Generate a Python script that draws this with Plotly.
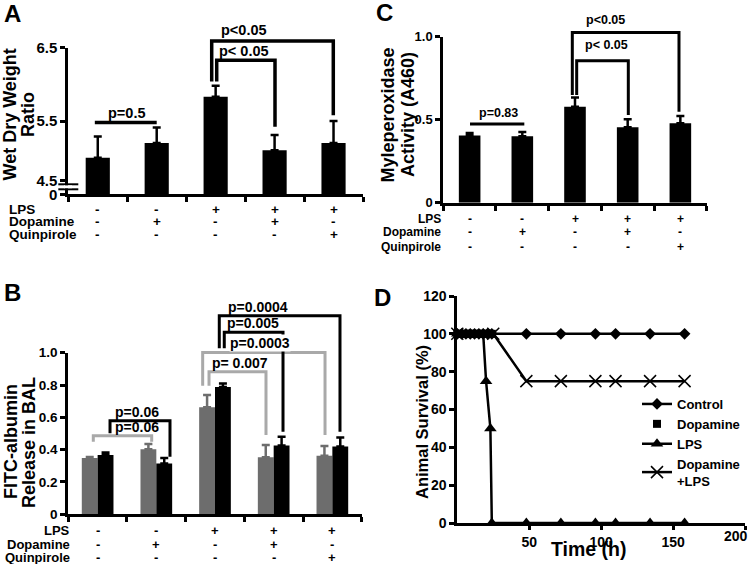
import plotly.graph_objects as go

W, H = 750, 564
FONT = "Liberation Sans, Arial, Helvetica, sans-serif"
BLACK = "#000000"
GRAY_BAR = "#6d6d6d"
GRAY_LINE = "#a9a9a9"

# ---------------- data ----------------
row_names = ["LPS", "Dopamine", "Quinpirole"]
lps_sign = ["-", "-", "+", "+", "+"]
dopamine_sign = ["-", "+", "-", "+", "-"]
quinpirole_sign = ["-", "-", "-", "-", "+"]
group_pos = [0, 1, 2, 3, 4]

# Panel A: wet/dry weight ratio
wet_dry = [5.00, 5.20, 5.83, 5.10, 5.20]
wet_dry_err = [0.29, 0.21, 0.15, 0.21, 0.30]
a_tickvals = [4.5, 4.69, 5.5, 6.5]
a_ticktext = ["0", "4.5", "5.5", "6.5"]

# Panel B: FITC-albumin release (gray / black series)
fitc_gray = [0.348, 0.402, 0.662, 0.353, 0.363]
fitc_gray_err = [0.006, 0.033, 0.076, 0.076, 0.060]
fitc_black = [0.367, 0.315, 0.788, 0.425, 0.419]
fitc_black_err = [0.016, 0.033, 0.022, 0.055, 0.056]
b_tickvals = [0, 0.2, 0.4, 0.6, 0.8, 1.0]
b_ticktext = ["0", "0.2", "0.4", "0.6", "0.8", "1.0"]

# Panel C: myeloperoxidase activity
mpo = [0.405, 0.400, 0.578, 0.455, 0.478]
mpo_err = [0.015, 0.026, 0.056, 0.047, 0.044]
c_tickvals = [0, 0.5, 1.0]
c_ticktext = ["0", "0.5", "1.0"]

# Panel D: survival
t_control = [0, 3, 6, 9, 12, 15, 18, 21, 24, 48, 72, 96, 110, 134, 158]
s_control = [100, 100, 100, 100, 100, 100, 100, 100, 100, 100, 100, 100, 100, 100, 100]
t_dopamine = [0, 2, 4, 6, 8, 10, 12, 14, 16, 18, 20, 22, 24]
s_dopamine = [100, 100, 100, 100, 100, 100, 100, 100, 100, 100, 100, 100, 100]
t_lps = [0, 18, 20, 23, 24, 48, 72, 96, 110, 134, 158]
s_lps = [100, 100, 75, 50, 0, 0, 0, 0, 0, 0, 0]
t_dalps = [0, 25, 48, 72, 96, 110, 134, 158]
s_dalps = [100, 100, 75, 75, 75, 75, 75, 75]
d_xticks = [50, 100, 150, 200]
d_xticktext = ["50", "100", "150", ""]
d_yticks = [0, 20, 40, 60, 80, 100, 120]

# significance brackets: panel, x_left, x_right, y_top, y_left_bottom, y_right_bottom, color, label, text_x, text_y
brackets = [
    ("A", -0.05, 1.0, 5.48, None, None, BLACK, "p=0.5", 0.49, 5.613),
    ("A", 2.018, 3.007, 6.33, 6.04, 5.42, BLACK, "p< 0.05", 2.48, 6.45),
    ("A", 1.933, 3.996, 6.59, 6.04, 5.58, BLACK, "p<0.05", 2.48, 6.74),
    ("C", 0.007, 1.038, 0.474, None, None, BLACK, "p=0.83", 0.557, 0.5386),
    ("C", 2.032, 3.012, 0.855, 0.649, 0.528, BLACK, "p< 0.05", 2.589, 0.95),
    ("C", 1.949, 3.974, 1.026, 0.649, 0.548, BLACK, "p<0.05", 2.57, 1.10),
    ("B", -0.074, 0.921, 0.486, 0.449, 0.449, GRAY_LINE, "p=0.06", 0.666, 0.542),
    ("B", 1.898, 2.869, 0.882, 0.796, 0.490, GRAY_LINE, "p= 0.007", 2.418, 0.934),
    ("B", 1.79, 3.875, 1.002, 0.796, 0.490, GRAY_LINE, "p=0.0003", 2.767, 1.058),
    ("B", 0.211, 1.233, 0.579, 0.501, 0.356, BLACK, "p=0.06", 0.666, 0.635),
    ("B", 2.158, 3.159, 1.126, 1.027, 0.511, BLACK, "p=0.005", 2.648, 1.182),
    ("B", 2.073, 4.13, 1.229, 1.027, 0.511, BLACK, "p=0.0004", 2.729, 1.285),
]

# ---------------- layout geometry ----------------
panels = {
    "A": dict(xpx=(68.3, 363.0), ypx=(47.7, 194.3), yr=(4.5, 6.5), xr=(-0.5, 4.5)),
    "C": dict(xpx=(443.3, 706.7), ypx=(36.7, 202.7), yr=(0, 1), xr=(-0.5, 4.5)),
    "B": dict(xpx=(68.3, 361.7), ypx=(352.7, 514.3), yr=(0, 1), xr=(-0.5, 4.5)),
    "D": dict(xpx=(457.3, 745.0), ypx=(296.0, 523.0), yr=(0, 120), xr=(0, 200)),
}


def fx(p, v):
    a, b = p["xpx"]
    lo, hi = p["xr"]
    return (a + (v - lo) / (hi - lo) * (b - a)) / W


def fy(p, v):
    top, bot = p["ypx"]
    lo, hi = p["yr"]
    return 1 - (bot - (v - lo) / (hi - lo) * (bot - top)) / H


def xdom(p):
    return [p["xpx"][0] / W, p["xpx"][1] / W]


def ydom(p):
    return [1 - p["ypx"][1] / H, 1 - p["ypx"][0] / H]


fig = go.Figure()

# ---------------- bar traces ----------------
fig.add_trace(go.Bar(
    x=group_pos, y=wet_dry, width=0.41, marker=dict(color=BLACK, line=dict(width=0)),
    error_y=dict(type="data", symmetric=False, array=wet_dry_err, arrayminus=[0] * 5,
                 color=BLACK, thickness=2.5, width=4),
    xaxis="x", yaxis="y", showlegend=False))

fig.add_trace(go.Bar(
    x=group_pos, y=mpo, width=0.41, marker=dict(color=BLACK, line=dict(width=0)),
    error_y=dict(type="data", symmetric=False, array=mpo_err, arrayminus=[0] * 5,
                 color=BLACK, thickness=2.5, width=4),
    xaxis="x2", yaxis="y2", showlegend=False))

fig.add_trace(go.Bar(
    x=group_pos, y=fitc_gray, width=0.27, offset=-0.27, marker=dict(color=GRAY_BAR, line=dict(width=0)),
    error_y=dict(type="data", symmetric=False, array=fitc_gray_err, arrayminus=[0] * 5,
                 color=GRAY_BAR, thickness=2.5, width=4),
    xaxis="x3", yaxis="y3", showlegend=False))
fig.add_trace(go.Bar(
    x=group_pos, y=fitc_black, width=0.27, offset=0, marker=dict(color=BLACK, line=dict(width=0)),
    error_y=dict(type="data", symmetric=False, array=fitc_black_err, arrayminus=[0] * 5,
                 color=BLACK, thickness=2.5, width=4),
    xaxis="x3", yaxis="y3", showlegend=False))

# ---------------- survival traces ----------------
fig.add_trace(go.Scatter(x=t_dalps, y=s_dalps, name="Dopamine<br>+LPS", mode="lines+markers",
                         line=dict(color=BLACK, width=2.5),
                         marker=dict(symbol="x-thin-open", size=12, color=BLACK,
                                     line=dict(width=1.5, color=BLACK)),
                         xaxis="x4", yaxis="y4", cliponaxis=False, legendrank=4))
fig.add_trace(go.Scatter(x=t_lps, y=s_lps, name="LPS", mode="lines+markers",
                         line=dict(color=BLACK, width=2.5),
                         marker=dict(symbol="triangle-up", size=11, color=BLACK),
                         xaxis="x4", yaxis="y4", cliponaxis=False, legendrank=3))
fig.add_trace(go.Scatter(x=t_control, y=s_control, name="Control", mode="lines+markers",
                         line=dict(color=BLACK, width=2.5),
                         marker=dict(symbol="diamond", size=9, color=BLACK),
                         xaxis="x4", yaxis="y4", cliponaxis=False, legendrank=1))
fig.add_trace(go.Scatter(x=t_dopamine, y=s_dopamine, name="Dopamine", mode="markers",
                         marker=dict(symbol="square", size=8, color=BLACK),
                         xaxis="x4", yaxis="y4", cliponaxis=False, legendrank=2))

# ---------------- axes ----------------
def bar_xaxis(p, anchor):
    return dict(domain=xdom(p), range=list(p["xr"]), anchor=anchor, showline=True, linewidth=3,
                linecolor=BLACK, ticks="outside", ticklen=5, tickwidth=2.5, tickcolor=BLACK,
                tickvals=[-0.5, 0.5, 1.5, 2.5, 3.5, 4.5], showticklabels=False,
                showgrid=False, zeroline=False, fixedrange=True, automargin=False)


def val_yaxis(p, anchor, tv, tt, fsize):
    return dict(domain=ydom(p), range=list(p["yr"]), anchor=anchor, showline=True, linewidth=3,
                linecolor=BLACK, ticks="outside", ticklen=5, tickwidth=2.5, tickcolor=BLACK,
                tickvals=tv, ticktext=tt, tickfont=dict(size=fsize, weight="bold", color=BLACK),
                showgrid=False, zeroline=False, fixedrange=True, automargin=False)


pA, pB, pC, pD = panels["A"], panels["B"], panels["C"], panels["D"]
fig.update_layout(
    template="none",
    xaxis=bar_xaxis(pA, "y"),
    yaxis=val_yaxis(pA, "x", a_tickvals, a_ticktext, 15),
    xaxis2=bar_xaxis(pC, "y2"),
    yaxis2=val_yaxis(pC, "x2", c_tickvals, c_ticktext, 13),
    xaxis3=bar_xaxis(pB, "y3"),
    yaxis3=val_yaxis(pB, "x3", b_tickvals, b_ticktext, 13.5),
    xaxis4=dict(domain=xdom(pD), range=list(pD["xr"]), anchor="y4", showline=True, linewidth=3,
                linecolor=BLACK, ticks="outside", ticklen=4, tickwidth=2.5, tickcolor=BLACK,
                tickvals=d_xticks, ticktext=d_xticktext,
                tickfont=dict(size=14, weight="bold", color=BLACK),
                showgrid=False, zeroline=False, fixedrange=True, automargin=False),
    yaxis4=val_yaxis(pD, "x4", d_yticks, [str(v) for v in d_yticks], 14),
)

shapes = []
annotations = []

# ---------------- brackets ----------------
for (pk, xl, xr, yt, ylb, yrb, col, lab, tx, ty) in brackets:
    p = panels[pk]
    lw = 3.5 if pk == "A" else 3
    if ylb is None:
        path = f"M {fx(p, xl)},{fy(p, yt)} L {fx(p, xr)},{fy(p, yt)}"
    else:
        path = (f"M {fx(p, xl)},{fy(p, ylb)} L {fx(p, xl)},{fy(p, yt)} "
                f"L {fx(p, xr)},{fy(p, yt)} L {fx(p, xr)},{fy(p, yrb)}")
    shapes.append(dict(type="path", xref="paper", yref="paper", path=path,
                       line=dict(color=col, width=lw), layer="above"))
    fsize = {"A": 14.5, "B": 14, "C": 12.5}[pk]
    ann = dict(text=lab, xref="paper", yref="paper", x=fx(p, tx), y=fy(p, ty),
               xanchor="center", yanchor="middle", showarrow=False,
               font=dict(size=fsize, weight="bold", color=BLACK))
    if lab == "p=0.0003":
        ann.update(bgcolor="white", borderpad=0)
    annotations.append(ann)

# ---------------- axis break on panel A ----------------
for yb in (184.3, 189.3):
    shapes.append(dict(type="line", xref="paper", yref="paper", x0=58.3 / W, x1=78.3 / W,
                       y0=1 - yb / H, y1=1 - yb / H, line=dict(color=BLACK, width=2), layer="above"))
shapes.append(dict(type="rect", xref="paper", yref="paper", x0=64 / W, x1=72 / W,
                   y0=1 - 188.2 / H, y1=1 - 185.4 / H, fillcolor="white", line=dict(width=0),
                   layer="above"))

# ---------------- treatment rows ----------------
signs = [lps_sign, dopamine_sign, quinpirole_sign]
row_specs = [
    ("x", [209.3, 221.5, 234.3], 7, "left", 13.5),
    ("x2", [219.0, 232.3, 246.7], 443, "right", 12),
    ("x3", [530.0, 544.3, 557.3], 72, "right", 13),
]
for xref, rows_y, lx, lanchor, fs in row_specs:
    for i, name in enumerate(row_names):
        annotations.append(dict(text=name, xref="paper", yref="paper", x=lx / W, y=1 - rows_y[i] / H,
                                xanchor=lanchor, yanchor="middle", showarrow=False,
                                font=dict(size=fs, weight="bold", color=BLACK)))
        for j, s in enumerate(signs[i]):
            annotations.append(dict(text=s, xref=xref, yref="paper", x=group_pos[j], y=1 - rows_y[i] / H,
                                    xanchor="center", yanchor="middle", showarrow=False,
                                    font=dict(size=fs, weight="bold", color=BLACK)))

# last x tick label of panel D sits against the right edge (as in the original)
annotations.append(dict(text="200", xref="paper", yref="paper", x=749.5 / W, y=1 - 536 / H,
                        xanchor="right", yanchor="middle", showarrow=False,
                        font=dict(size=14, weight="bold", color=BLACK)))

# ---------------- axis titles ----------------
titles = [
    ("Wet Dry Weight", 9.5, 115, 18),
    ("Ratio", 28, 115, 18),
    ("Myleperoxidase", 387.5, 115, 18),
    ("Activity (A460)", 408, 115, 18),
    ("FITC-albumin", 11, 442, 18),
    ("Release in BAL", 29, 443, 18),
    ("Animal Survival (%)", 421.5, 422.5, 16.5),
]
for txt, xx, yy, fs in titles:
    annotations.append(dict(text=txt, xref="paper", yref="paper", x=xx / W, y=1 - yy / H,
                            xanchor="center", yanchor="middle", textangle=-90, showarrow=False,
                            font=dict(size=fs, weight="bold", color=BLACK)))
annotations.append(dict(text="Time (h)", xref="paper", yref="paper", x=588.3 / W, y=1 - 549 / H,
                        xanchor="center", yanchor="middle", showarrow=False,
                        font=dict(size=19.5, weight="bold", color=BLACK)))

# ---------------- panel letters ----------------
for letter, xx, yy in [("A", 12.5, 13), ("B", 12, 293), ("C", 384, 12), ("D", 382, 297)]:
    annotations.append(dict(text=letter, xref="paper", yref="paper", x=xx / W, y=1 - yy / H,
                            xanchor="center", yanchor="middle", showarrow=False,
                            font=dict(size=24, weight="bold", color=BLACK)))

fig.update_layout(
    width=W, height=H, margin=dict(l=0, r=0, t=0, b=0, pad=0), autosize=False,
    paper_bgcolor="white", plot_bgcolor="white",
    font=dict(family=FONT, color=BLACK),
    barmode="overlay",
    shapes=shapes, annotations=annotations,
    showlegend=True,
    legend=dict(x=637 / W, y=1 - 389 / H, xanchor="left", yanchor="top",
                bgcolor="rgba(0,0,0,0)", itemwidth=30, tracegroupgap=0,
                traceorder="normal", borderwidth=0,
                font=dict(size=13, weight="bold", color=BLACK, family=FONT)),
)

fig.write_html("out.html", config={"displayModeBar": False, "responsive": False},
               post_script="document.body.style.margin='0';document.body.style.overflow='hidden';")
